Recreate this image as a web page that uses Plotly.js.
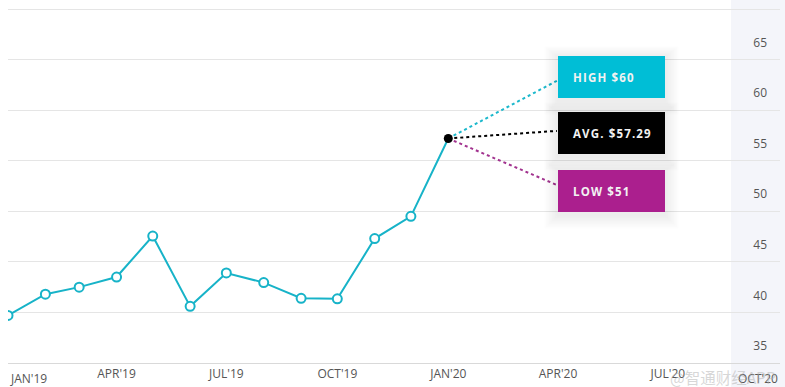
<!DOCTYPE html>
<html>
<head>
<meta charset="utf-8">
<script src="https://cdn.plot.ly/plotly-3.0.1.min.js"></script>
<style>html,body{margin:0;padding:0;background:#fff;}#chart{width:785px;height:387px;}</style>
</head>
<body>
<div id="chart"></div>
<script>
// ---- data ----
var months = ['2019-01-01','2019-02-01','2019-03-01','2019-04-01','2019-05-01','2019-06-01','2019-07-01','2019-08-01','2019-09-01','2019-10-01','2019-11-01','2019-12-01'];
var prices = [39.7, 41.8, 42.5, 43.5, 47.55, 40.6, 43.9, 42.95, 41.4, 41.35, 47.3, 49.5];
var lastDate = '2020-01-01';
var lastPrice = 57.2;
var tickDates = ['2019-01-01','2019-04-01','2019-07-01','2019-10-01','2020-01-01','2020-04-01','2020-07-01','2020-10-01'];
var tickLabels = ["JAN'19","APR'19","JUL'19","OCT'19","JAN'20","APR'20","JUL'20","OCT'20"];
var yTicks = [35, 40, 45, 50, 55, 60, 65, 70];
var yTickLabels = ['35','40','45','50','55','60','65',''];
var targetNames = ['HIGH $60', 'AVG. $57.29', 'LOW $51'];
var targetValues = [60, 57.29, 51];
var targetColors = ['#00bed6', '#000000', '#ab1f8e'];
var lineColors = ['#1bb8cc', '#000000', '#a2338f'];

// ---- layout helpers ----
var yr = [35, 70.89];
var targetLineEndDate = '2020-03-31';
var boxTopPx = [56, 112, 170];     // label box placement (pixels from top of plot)
var boxH = 42, boxL = 558, boxR = 665;
var lineEndsY = [62.9, 57.95, 52.6];
var lineColor = '#17b3c8';
var plotW = 772, plotH = 363, x0px = 8;
function pxToPaperX(px) { return (px - x0px) / plotW; }
function pxToPaperY(py) { return 1 - py / plotH; }

var traces = [];
traces.push({
  x: months.concat([lastDate]), y: prices.concat([lastPrice]),
  type: 'scatter', mode: 'lines', line: {color: lineColor, width: 2},
  hoverinfo: 'skip', showlegend: false
});
traces.push({
  x: months, y: prices, type: 'scatter', mode: 'markers',
  marker: {symbol: 'circle', size: 9, color: '#ffffff', line: {color: lineColor, width: 2}},
  showlegend: false
});
for (var i = 0; i < targetNames.length; i++) {
  traces.push({
    x: [lastDate, targetLineEndDate], y: [lastPrice, lineEndsY[i]],
    type: 'scatter', mode: 'lines', line: {color: lineColors[i], width: 2, dash: 'dot'},
    showlegend: false, hoverinfo: 'skip'
  });
}
traces.push({
  x: [lastDate], y: [lastPrice], type: 'scatter', mode: 'markers',
  marker: {size: 9, color: '#000'}, showlegend: false
});

var shapes = [{
  type: 'rect', xref: 'paper', yref: 'paper', x0: pxToPaperX(731), x1: 1.01, y0: -0.07, y1: 1,
  fillcolor: '#f4f5fa', line: {width: 0}, layer: 'below'
}];
var annotations = [];
for (var i = 0; i < targetNames.length; i++) {
  var bTop = boxTopPx[i], bBot = boxTopPx[i] + boxH;
  // soft shadow layers
  for (var k = 1; k <= 9; k++) {
    shapes.push({
      type: 'rect', xref: 'paper', yref: 'paper',
      x0: pxToPaperX(boxL - k * 1.5), x1: pxToPaperX(boxR + k * 1.5),
      y0: pxToPaperY(bBot + 3 + k * 1.5), y1: pxToPaperY(bTop + 1 - k * 1.2),
      fillcolor: 'rgba(0,0,0,0.009)', line: {width: 0}, layer: 'above'
    });
  }
  shapes.push({
    type: 'rect', xref: 'paper', yref: 'paper',
    x0: pxToPaperX(boxL), x1: pxToPaperX(boxR), y0: pxToPaperY(bBot), y1: pxToPaperY(bTop),
    fillcolor: targetColors[i], line: {width: 0}, layer: 'above'
  });
  annotations.push({
    xref: 'paper', yref: 'paper', x: pxToPaperX(571), y: pxToPaperY(bTop + boxH / 2 + 0.5),
    xanchor: 'left', yanchor: 'middle',
    text: targetNames[i].split('').join('\u200A'), showarrow: false, align: 'left',
    font: {family: 'Open Sans', size: 11.5, color: '#f2f2f2', weight: 'bold'}
  });
}
// edge tick labels, aligned to stay inside the frame
annotations.push({xref: 'x', yref: 'paper', x: tickDates[0], y: -0.015, xanchor: 'left', yanchor: 'top',
  text: tickLabels[0], showarrow: false, font: {family: 'Open Sans', size: 12, color: '#555'}});
annotations.push({xref: 'paper', yref: 'paper', x: 1.0, y: -0.015, xanchor: 'right', yanchor: 'top',
  text: tickLabels[tickLabels.length - 1], showarrow: false, font: {family: 'Open Sans', size: 12, color: '#555'}});
annotations.push({xref: 'paper', yref: 'paper', x: 0.998, y: -0.003, xanchor: 'right', yanchor: 'top',
  text: '@智通财经APP', showarrow: false, font: {family: 'Noto Sans CJK SC', size: 15.5, color: 'rgba(175,175,175,0.5)'}});

var midVals = tickDates.slice(1, -1), midText = tickLabels.slice(1, -1);

var layout = {
  width: 785, height: 387,
  margin: {l: 8, r: 5, t: 0, b: 24},
  paper_bgcolor: '#ffffff', plot_bgcolor: 'rgba(0,0,0,0)',
  showlegend: false,
  xaxis: {
    type: 'date', range: ['2019-01-01', '2020-10-02'],
    tickmode: 'array', tickvals: midVals, ticktext: midText,
    showgrid: false, zeroline: false, showline: true, linecolor: '#d9d9d9', linewidth: 1,
    ticks: '', tickfont: {family: 'Open Sans', size: 12, color: '#555'}
  },
  yaxis: {
    range: yr, side: 'right', tickmode: 'array', tickvals: yTicks, ticktext: yTickLabels,
    ticklabelposition: 'inside', ticklabelstandoff: 10, ticklabelshift: -17,
    showgrid: true, gridcolor: '#e5e5e5', gridwidth: 1, zeroline: false, showline: false,
    ticks: '', tickfont: {family: 'Open Sans', size: 12, color: '#555'}
  },
  shapes: shapes, annotations: annotations
};

Plotly.newPlot('chart', traces, layout, {displayModeBar: false, staticPlot: true});
</script>
</body>
</html>
